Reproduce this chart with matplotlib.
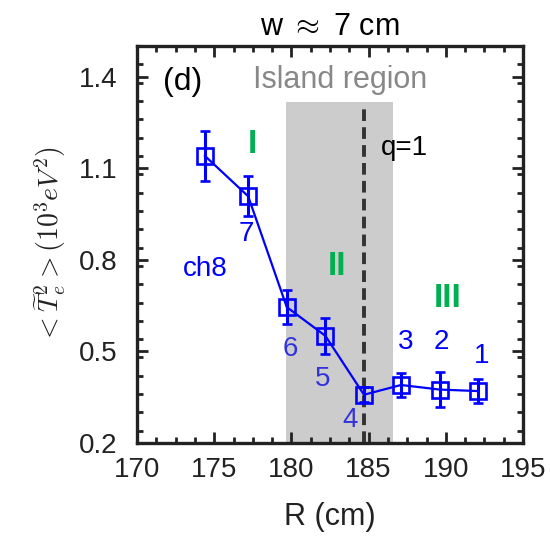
import matplotlib
matplotlib.use('Agg')
import matplotlib.pyplot as plt
from matplotlib.ticker import MultipleLocator

plt.rcParams['font.family'] = ['Liberation Sans', 'DejaVu Sans']
plt.rcParams['mathtext.fontset'] = 'cm'

# 데이터
R = [174.4, 177.2, 179.7, 182.2, 184.7, 187.1, 189.6, 192.1]
T2 = [1.14, 1.008, 0.645, 0.551, 0.358, 0.39, 0.375, 0.37]
T2_err = [0.083, 0.066, 0.055, 0.058, 0.025, 0.04, 0.056, 0.039]
ch_labels = ['ch8', '7', '6', '5', '4', '3', '2', '1']
label_pos = [(174.4, 0.77), (177.1, 0.883), (179.9, 0.507), (182.0, 0.408), (183.8, 0.276),
             (187.4, 0.53), (189.7, 0.53), (192.3, 0.484)]
island_lo, island_hi = 179.65, 186.56
q1 = 184.67

fig = plt.figure(figsize=(5.5, 5.43), dpi=100)
ax = fig.add_axes([137 / 550, 1 - 443 / 543, (523 - 137) / 550, (443 - 46) / 543])

# 섬 영역 (회색)
ax.fill_between([island_lo, island_hi], 0.2, 1.315, color='#cccccc', lw=0, zorder=0)
ax.plot([q1, q1], [0.2, 1.30], color='#333333', lw=2.8, ls=(0, (3, 1.6)), zorder=1)

ax.errorbar(R, T2, yerr=T2_err, color='#0000ff', marker='s', ms=11, mfc='none',
            mew=1.9, lw=1.6, elinewidth=2.2, capsize=3.5, capthick=2.2, zorder=3)

for (x, y), s in zip(label_pos, ch_labels):
    c = '#3333dd' if island_lo < x < island_hi else '#0000ff'
    ax.text(x, y, s, color=c, fontsize=20, ha='center', va='center')

ax.text(0.117, 0.909, '(d)', transform=ax.transAxes, fontsize=23, ha='center', va='center')
ax.text(183.15, 1.39, 'Island region', color='#888888', fontsize=22, ha='center', va='center')
ax.text(187.3, 1.167, 'q=1', color='black', fontsize=20, ha='center', va='center')
ax.text(177.45, 1.177, 'I', color='#00b050', fontsize=24, fontweight='bold', ha='center', va='center')
ax.text(182.95, 0.777, 'II', color='#00b050', fontsize=24, fontweight='bold', ha='center', va='center')
ax.text(190.1, 0.672, 'III', color='#00b050', fontsize=24, fontweight='bold', ha='center', va='center')

ax.set_xlim(170, 195)
ax.set_ylim(0.2, 1.5)
ax.set_xticks([170, 175, 180, 185, 190, 195])
ax.set_yticks([0.2, 0.5, 0.8, 1.1, 1.4])
ax.xaxis.set_minor_locator(MultipleLocator(1.25))
ax.yaxis.set_minor_locator(MultipleLocator(0.06))
ax.tick_params(which='both', direction='in', top=True, right=True, colors='#222222',
               labelcolor='#222222', labelsize=20, width=2)
ax.tick_params(which='major', length=8)
ax.tick_params(axis='x', which='major', pad=10)
ax.tick_params(axis='y', which='major', pad=14)
ax.tick_params(which='minor', length=4)
for sp in ax.spines.values():
    sp.set_linewidth(2.4)
    sp.set_color('#222222')

ax.set_xlabel('R (cm)', fontsize=22, color='#222222', labelpad=14)
ax.set_ylabel(r'$<\widetilde{T}_e^2>(10^3eV^2)$', fontsize=20, color='#222222', labelpad=8)
ax.set_title(r'w $\approx$ 7 cm', fontsize=22, color='black', pad=8)

plt.savefig('out.png', dpi=100)
